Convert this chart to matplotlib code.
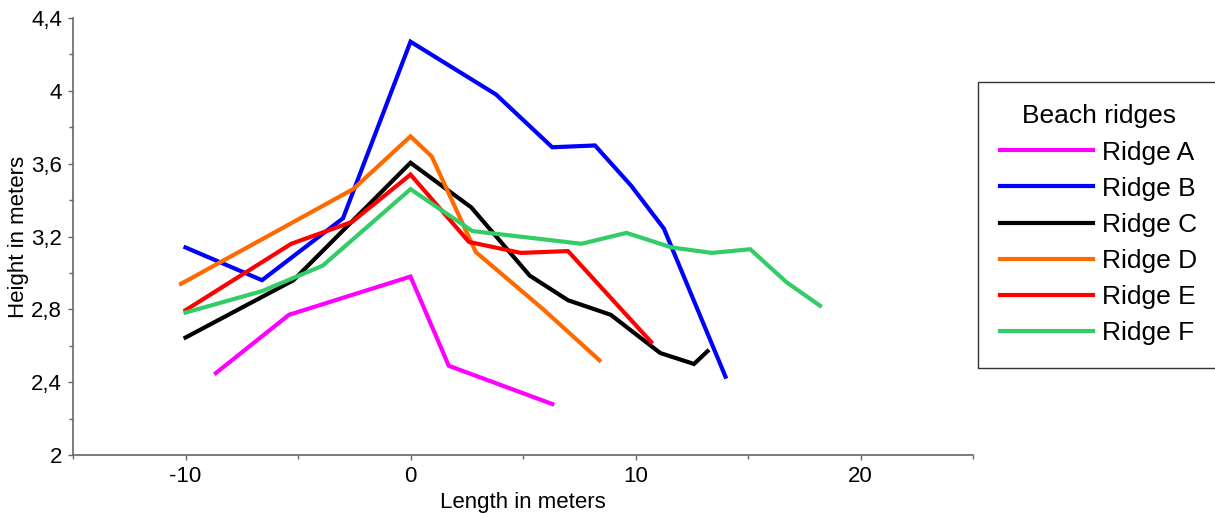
import matplotlib
matplotlib.use("Agg")
import matplotlib.pyplot as plt
import matplotlib.ticker as mticker

plt.rcParams['font.family'] = ['Liberation Sans', 'DejaVu Sans']
plt.rcParams['axes.unicode_minus'] = False

# Beach ridge profiles (length in m, height in m)
ridge_a_x = [-8.65, -5.4, 0.0, 1.7, 6.3]
ridge_a_y = [2.45, 2.77, 2.98, 2.49, 2.28]

ridge_b_x = [-10.0, -6.6, -3.0, 0.0, 3.8, 6.3, 8.2, 9.8, 11.26, 14.0]
ridge_b_y = [3.14, 2.96, 3.30, 4.27, 3.98, 3.69, 3.70, 3.48, 3.244, 2.43]

ridge_c_x = [-10.0, -5.2, 0.0, 2.7, 5.3, 7.0, 8.9, 11.1, 12.6, 13.2]
ridge_c_y = [2.645, 2.96, 3.605, 3.36, 2.985, 2.85, 2.77, 2.56, 2.50, 2.57]

ridge_d_x = [-10.2, -2.55, 0.0, 0.94, 2.9, 5.9, 8.4]
ridge_d_y = [2.94, 3.46, 3.75, 3.64, 3.115, 2.80, 2.52]

ridge_e_x = [-10.0, -5.3, -2.6, 0.0, 2.6, 4.9, 7.0, 10.7]
ridge_e_y = [2.795, 3.16, 3.28, 3.54, 3.17, 3.11, 3.12, 2.62]

ridge_f_x = [-10.0, -6.6, -3.9, 0.0, 2.75, 7.6, 9.6, 11.6, 13.4, 15.1, 16.7, 18.2]
ridge_f_y = [2.782, 2.90, 3.04, 3.46, 3.23, 3.16, 3.22, 3.14, 3.11, 3.13, 2.95, 2.82]

series = [
    ("Ridge A", ridge_a_x, ridge_a_y, "#ff00ff"),
    ("Ridge B", ridge_b_x, ridge_b_y, "#0000ff"),
    ("Ridge C", ridge_c_x, ridge_c_y, "#000000"),
    ("Ridge D", ridge_d_x, ridge_d_y, "#ff6a00"),
    ("Ridge E", ridge_e_x, ridge_e_y, "#ff0000"),
    ("Ridge F", ridge_f_x, ridge_f_y, "#33cc66"),
]

fig = plt.figure(figsize=(12.15, 5.15), dpi=100)
ax = fig.add_axes([73 / 1215, 60 / 515, 900 / 1215, 437 / 515])

for name, xs, ys, col in series:
    ax.plot(xs, ys, color=col, lw=3, label=name, solid_joinstyle='miter')

ax.set_xlim(-15, 25)
ax.set_ylim(2, 4.4)
ax.xaxis.set_major_locator(mticker.FixedLocator([-10, 0, 10, 20]))
ax.xaxis.set_minor_locator(mticker.MultipleLocator(5))
ax.yaxis.set_major_locator(mticker.MultipleLocator(0.4))
ax.yaxis.set_minor_locator(mticker.MultipleLocator(0.2))

# decimal comma on the height axis
comma = mticker.FuncFormatter(lambda v, p: ('%g' % round(v, 2)).replace('.', ','))
ax.yaxis.set_major_formatter(comma)

ax.spines['top'].set_visible(False)
ax.spines['right'].set_visible(False)
for s in ('left', 'bottom'):
    ax.spines[s].set_color('#666666')
    ax.spines[s].set_linewidth(1.2)

ax.tick_params(which='major', direction='out', length=3.8, width=1, color='#666666',
               labelsize=16, pad=4)
ax.tick_params(which='minor', direction='out', length=2.6, width=1, color='#666666')

ax.set_xlabel("Length in meters", fontsize=16, labelpad=4)
ax.set_ylabel("Height in meters", fontsize=16, labelpad=2)

leg = fig.legend(loc='upper left', bbox_to_anchor=(978 / 1215, 1 - 82 / 515),
                 title="Beach ridges", fontsize=19, title_fontsize=19,
                 frameon=True, fancybox=False, edgecolor='black',
                 handlelength=3.5, handletextpad=0.35, labelspacing=0.46,
                 borderpad=0.85, borderaxespad=0)
leg.get_frame().set_linewidth(1)

fig.savefig("out.png", dpi=100, facecolor='white')
